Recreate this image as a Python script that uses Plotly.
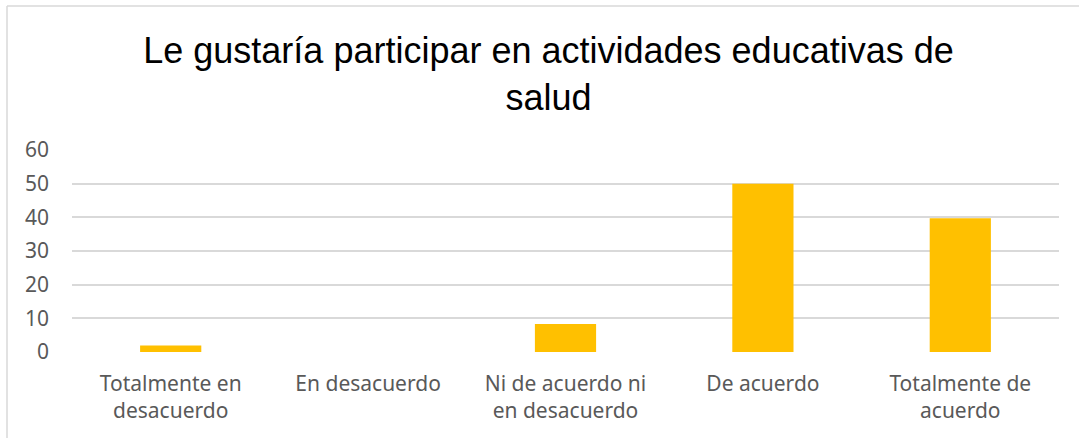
import plotly.graph_objects as go

categories = ["Totalmente en desacuerdo", "En desacuerdo", "Ni de acuerdo ni en desacuerdo", "De acuerdo", "Totalmente de acuerdo"]
tick_labels = ["Totalmente en<br>desacuerdo", "En desacuerdo", "Ni de acuerdo ni<br>en desacuerdo", "De acuerdo", "Totalmente de<br>acuerdo"]
values = [1.96, 0, 8.33, 50, 39.7]
y_ticks = [0, 10, 20, 30, 40, 50, 60]

W, H = 1079, 438
L, R, T, B = 72, 20, 150, 86
pw = W - L - R
ph = H - T - B

fig = go.Figure()
fig.add_trace(go.Bar(x=categories, y=values, marker=dict(color="#FFC000", line=dict(width=0)), width=0.31))

fig.update_layout(
    width=W, height=H,
    margin=dict(l=L, r=R, t=T, b=B),
    paper_bgcolor="white", plot_bgcolor="white",
    showlegend=False,
    title=dict(
        text="Le gustaría participar en actividades educativas de<br>salud",
        x=548.5 / W, xref="container", xanchor="center",
        y=1 - 63 / H, yanchor="middle", yref="container",
        font=dict(family="Liberation Sans, Arial, sans-serif", size=36, color="#000000"),
    ),
    xaxis=dict(
        tickmode="array", tickvals=categories, ticktext=tick_labels,
        showgrid=False, showline=False, zeroline=False,
        tickfont=dict(family="Noto Sans, sans-serif", size=21, color="#595959"),
        ticklabelstandoff=17,
    ),
    yaxis=dict(
        range=[0, 60], tickvals=y_ticks,
        showgrid=True, gridcolor="#D9D9D9", gridwidth=1.5,
        showline=False, zeroline=False,
        tickfont=dict(family="Noto Sans, sans-serif", size=21, color="#595959"),
        ticklabelstandoff=22,
    ),
    shapes=[
        dict(type="line", xref="paper", yref="paper",
             x0=(7 - L) / pw, x1=(W + 5 - L) / pw, y0=(H - B - 6) / ph, y1=(H - B - 6) / ph,
             line=dict(color="#D9D9D9", width=1.5)),
        dict(type="line", xref="paper", yref="paper",
             x0=(7 - L) / pw, x1=(7 - L) / pw, y0=(H - B - 6) / ph, y1=-(B + 5) / ph,
             line=dict(color="#D9D9D9", width=1.5)),
    ],
)

fig.write_html("out.html", config={"displayModeBar": False},
               post_script="document.body.style.margin='0';")
